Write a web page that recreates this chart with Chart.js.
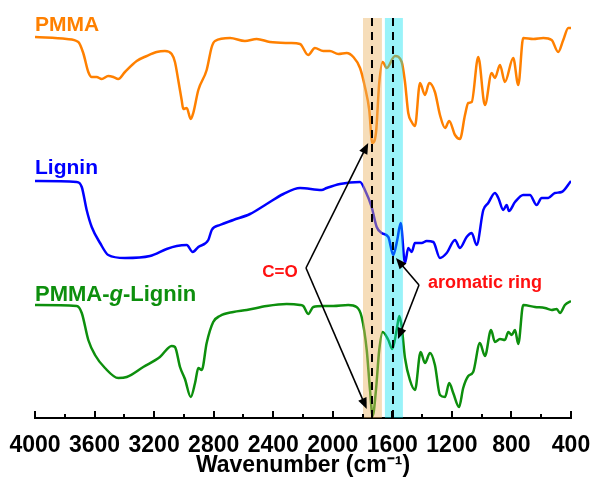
<!DOCTYPE html>
<html>
<head>
<meta charset="utf-8">
<script src="https://cdn.jsdelivr.net/npm/chart.js@4"></script>
<style>
  html, body { margin: 0; padding: 0; background: #fff; }
</style>
</head>
<body>
<canvas id="c" width="590" height="480"></canvas>
<script>
// FTIR spectra (wavenumber in cm-1, intensity in arbitrary offset units)
const pmmaWn = [4000,3787,3709,3676,3642,3619,3586,3552,3508,3474,3441,3396,3317,3250,3183,3127,3082,3060,3038,3015,3004,2981,2954,2937,2903,2847,2813,2791,2690,2590,2511,2422,2287,2220,2165,2120,2064,2019,1963,1907,1862,1817,1784,1755,1735,1710,1688,1665,1638,1582,1537,1515,1493,1470,1448,1414,1381,1352,1314,1280,1246,1218,1179,1146,1112,1090,1067,1023,978,933,911,877,844,788,754,721,653,586,530,486,452,418,400];
const pmmaT = [381,379,376,365,346,341,341,339,342,341,339,346,357,362,366,367,364,356,338,318,309,310,299,305,328,348,371,377,380,377,379,376,375,374,363,370,367,367,364,365,361,350,331,308,275,285,335,356,350,362,356,336,305,296,292,335,323,335,326,303,290,297,283,279,303,315,316,361,313,345,340,353,336,360,333,380,379,380,378,366,378,390,390];

const ligninWn = [4000,3720,3686,3653,3619,3563,3508,3396,3228,3116,3048,2981,2941,2903,2836,2813,2758,2668,2556,2444,2332,2220,2075,2041,1952,1817,1784,1739,1705,1672,1627,1594,1567,1544,1515,1493,1470,1448,1403,1369,1325,1280,1235,1179,1146,1101,1067,1034,989,956,911,888,855,832,817,776,721,676,631,597,553,508,463,400];
const ligninT = [237,236,231,208,191,175,163,160,162,169,172,173,166,171,178,188,193,198,204,214,224,230,228,230,234,236,228,211,191,185,181,163,178,195,155,170,166,175,175,177,176,160,165,178,170,181,185,173,208,215,225,220,208,213,207,216,223,223,213,220,220,225,226,237];

const graftWn = [4000,3720,3686,3642,3597,3530,3441,3384,3273,3161,3082,3060,3026,2993,2954,2925,2903,2880,2847,2803,2758,2668,2578,2444,2310,2220,2198,2165,2131,2064,1997,1896,1840,1806,1772,1750,1732,1710,1688,1665,1627,1600,1571,1553,1537,1515,1482,1448,1410,1381,1347,1314,1280,1246,1218,1191,1152,1124,1090,1057,1012,978,937,911,877,844,821,798,776,754,721,642,575,530,496,474,441,400];
const graftT = [113,112,105,78,63,50,40,41,51,61,72,71,51,39,21,35,50,48,75,96,102,106,108,112,114,113,112,104,111,112,112,113,111,101,68,28,2,28,68,86,78,69,88,102,91,60,38,28,66,55,65,53,23,21,35,25,11,30,42,46,75,62,88,76,79,78,86,83,88,74,113,111,110,108,109,105,113,117];

const tickValues = [4000,3600,3200,2800,2400,2000,1600,1200,800,400];
const minorTickValues = [3800,3400,3000,2600,2200,1800,1400,1000,600];

// highlighted regions and marker lines (cm-1)
const bandRanges = [[1797,1670],[1650,1529]];
const dashedAt = [1735,1598];

const FONT = 'Arial, "Liberation Sans", sans-serif';
const COLORS = ['#ff8000', '#0000ff', '#0d8f0d'];

const toXY = (xs, ys) => xs.map((v, i) => ({ x: v, y: ys[i] }));

// annotation layout in data units
const seriesTags = [
  { parts: [['PMMA', '']], at: [4000, 387], color: COLORS[0], size: 21 },
  { parts: [['Lignin', '']], at: [4000, 244], color: COLORS[1], size: 21 },
  { parts: [['PMMA-', ''], ['g', 'italic '], ['-Lignin', '']], at: [4000, 117], color: COLORS[2], size: 22 }
];
const arrowGroups = [
  { from: [2180, 150], to: [[1762, 275], [1772, 9]] },
  { from: [1421, 133], to: [[1576, 160], [1562, 79]] }
];
const notes = [
  { text: 'C=O', at: [2355, 141], align: 'center', size: 17 },
  { text: 'aromatic ring', at: [1361, 130], align: 'left', size: 18 }
];

function arrow(ctx, x1, y1, x2, y2) {
  const ang = Math.atan2(y2 - y1, x2 - x1);
  const len = 11, w = 4.5;
  ctx.beginPath();
  ctx.moveTo(x1, y1);
  ctx.lineTo(x2 - Math.cos(ang) * len * 0.8, y2 - Math.sin(ang) * len * 0.8);
  ctx.stroke();
  ctx.beginPath();
  ctx.moveTo(x2, y2);
  ctx.lineTo(x2 - Math.cos(ang) * len - Math.sin(ang) * w, y2 - Math.sin(ang) * len + Math.cos(ang) * w);
  ctx.lineTo(x2 - Math.cos(ang) * len + Math.sin(ang) * w, y2 - Math.sin(ang) * len - Math.cos(ang) * w);
  ctx.closePath();
  ctx.fill();
}

const overlay = {
  id: 'overlay',
  afterDatasetsDraw(chart) {
    const { ctx, chartArea: a, scales: { x, y } } = chart;
    ctx.save();
    // shaded bands go over the spectra
    const bandFill = ['rgba(235,180,100,0.45)', 'rgba(0,225,240,0.4)'];
    bandRanges.forEach((r, i) => {
      const x1 = x.getPixelForValue(r[0]), x2 = x.getPixelForValue(r[1]);
      ctx.fillStyle = bandFill[i];
      ctx.fillRect(x1, a.top, x2 - x1, a.bottom - a.top);
    });
    ctx.strokeStyle = '#000';
    ctx.lineWidth = 2;
    ctx.setLineDash([8, 6]);
    dashedAt.forEach(v => {
      const px = Math.round(x.getPixelForValue(v));
      ctx.beginPath();
      ctx.moveTo(px, a.top);
      ctx.lineTo(px, a.bottom);
      ctx.stroke();
    });
    ctx.setLineDash([]);

    // arrows
    ctx.lineWidth = 1.6;
    ctx.fillStyle = '#000';
    arrowGroups.forEach(g => {
      const fx = x.getPixelForValue(g.from[0]), fy = y.getPixelForValue(g.from[1]);
      g.to.forEach(t => arrow(ctx, fx, fy, x.getPixelForValue(t[0]), y.getPixelForValue(t[1])));
    });

    // red notes
    ctx.fillStyle = '#ff1010';
    ctx.textBaseline = 'alphabetic';
    notes.forEach(n => {
      ctx.font = 'bold ' + n.size + 'px ' + FONT;
      ctx.textAlign = n.align;
      ctx.fillText(n.text, x.getPixelForValue(n.at[0]), y.getPixelForValue(n.at[1]));
    });

    // series names
    ctx.textAlign = 'left';
    seriesTags.forEach(t => {
      let px = x.getPixelForValue(t.at[0]);
      const py = y.getPixelForValue(t.at[1]);
      ctx.fillStyle = t.color;
      t.parts.forEach(p => {
        ctx.font = p[1] + 'bold ' + t.size + 'px ' + FONT;
        ctx.fillText(p[0], px, py);
        px += ctx.measureText(p[0]).width;
      });
    });
    ctx.restore();
  },
  afterDraw(chart) {
    // inward major / minor tick marks on the bottom axis
    const { ctx, chartArea: a, scales: { x } } = chart;
    ctx.save();
    ctx.strokeStyle = '#000';
    ctx.lineWidth = 2;
    const mark = (v, len) => {
      const px = Math.round(x.getPixelForValue(v));
      ctx.beginPath();
      ctx.moveTo(px, a.bottom);
      ctx.lineTo(px, a.bottom - len);
      ctx.stroke();
    };
    tickValues.forEach(v => mark(v, 7));
    minorTickValues.forEach(v => mark(v, 4));
    ctx.restore();
  }
};

new Chart(document.getElementById('c'), {
  type: 'line',
  data: {
    datasets: [
      { label: 'PMMA', data: toXY(pmmaWn, pmmaT), borderColor: COLORS[0] },
      { label: 'Lignin', data: toXY(ligninWn, ligninT), borderColor: COLORS[1] },
      { label: 'PMMA-g-Lignin', data: toXY(graftWn, graftT), borderColor: COLORS[2] }
    ]
  },
  options: {
    responsive: false,
    animation: false,
    layout: { padding: { left: 35, right: 19, top: 18, bottom: 0 } },
    elements: {
      line: { borderWidth: 2.5, cubicInterpolationMode: 'monotone', fill: false },
      point: { radius: 0 }
    },
    plugins: { legend: { display: false }, tooltip: { enabled: false } },
    scales: {
      x: {
        type: 'linear',
        reverse: true,
        min: 400,
        max: 4000,
        afterFit(s) { s.height = 62; s.paddingLeft = 0; s.paddingRight = 0; },
        grid: { display: false },
        border: { display: true, color: '#000', width: 2 },
        ticks: {
          stepSize: 400,
          padding: 8,
          color: '#000',
          maxRotation: 0,
          autoSkip: false,
          callback: v => String(v),
          font: { family: FONT, size: 23, weight: 'bold', lineHeight: 1 }
        },
        title: {
          display: true,
          text: 'Wavenumber (cm\u207B\u00B9)',
          color: '#000',
          padding: { top: 0, bottom: 1 },
          font: { family: FONT, size: 23, weight: 'bold', lineHeight: 1.2 }
        }
      },
      y: { display: false, min: 0, max: 400 }
    }
  },
  plugins: [overlay]
});
</script>
</body>
</html>
